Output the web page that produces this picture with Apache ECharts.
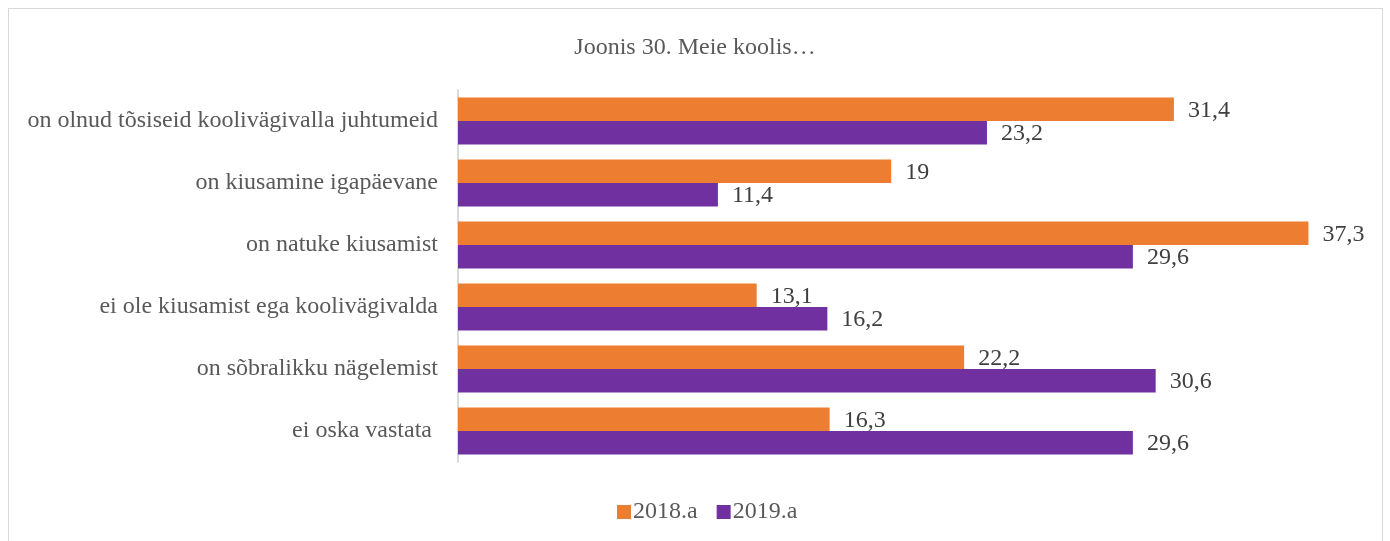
<!DOCTYPE html>
<html>
<head>
<meta charset="utf-8">
<script src="https://cdn.jsdelivr.net/npm/echarts@6/dist/echarts.min.js"></script>
<style>
    html, body { margin: 0; padding: 0; background: #fff; }
    #frame { position: absolute; left: 8px; top: 8px; width: 1375px; height: 540px; border: 1px solid #d9d9d9; box-sizing: border-box; }
    #chart { position: absolute; left: 0; top: 0; width: 1390px; height: 541px; }
</style>
</head>
<body>
<div id="frame"></div>
<div id="chart"></div>
<script>
    // andmed (ülevalt alla)
    var categories = [
        'on olnud tõsiseid koolivägivalla juhtumeid',
        'on kiusamine igapäevane',
        'on natuke kiusamist',
        'ei ole kiusamist ega koolivägivalda',
        'on sõbralikku nägelemist',
        'ei oska vastata '
    ];
    var values2018 = [31.4, 19, 37.3, 13.1, 22.2, 16.3];
    var values2019 = [23.2, 11.4, 29.6, 16.2, 30.6, 29.6];
    var seriesNames = ['2018.a', '2019.a'];

    var font = '"Liberation Serif", "Times New Roman", serif';

    var myChart = echarts.init(document.getElementById('chart'));
    var labelOpt = {
        show: true,
        position: 'right',
        distance: 14,
        offset: [0, 1],
        color: '#404040',
        fontFamily: font,
        fontSize: 24,
        formatter: function (p) { return String(p.value).replace('.', ','); }
    };
    myChart.setOption({
        animation: false,
        title: {
            text: 'Joonis 30. Meie koolis…',
            left: 'center',
            top: 31,
            textStyle: { fontFamily: font, fontSize: 24, fontWeight: 'normal', color: '#595959' }
        },
        legend: {
            data: seriesNames,
            top: 500,
            left: 617,
            padding: 0,
            itemWidth: 14,
            itemHeight: 14,
            itemGap: 19,
            icon: 'rect',
            textStyle: { fontFamily: font, fontSize: 24, color: '#595959', padding: [0, 0, 0, -3] }
        },
        grid: { left: 458, right: 20, top: 90, bottom: 79 },
        xAxis: {
            type: 'value',
            min: 0,
            max: 40,
            show: false
        },
        yAxis: {
            type: 'category',
            inverse: true,
            data: categories,
            axisLine: { lineStyle: { color: '#d9d9d9', width: 2 } },
            axisTick: { show: false },
            axisLabel: { color: '#595959', fontFamily: font, fontSize: 24, margin: 20 }
        },
        series: [
            {
                name: seriesNames[0],
                type: 'bar',
                data: values2018,
                barGap: '0%',
                barCategoryGap: '24%',
                itemStyle: { color: '#ED7D31' },
                label: labelOpt
            },
            {
                name: seriesNames[1],
                type: 'bar',
                data: values2019,
                barGap: '0%',
                barCategoryGap: '24%',
                itemStyle: { color: '#7030A0' },
                label: labelOpt
            }
        ]
    });
</script>
</body>
</html>
